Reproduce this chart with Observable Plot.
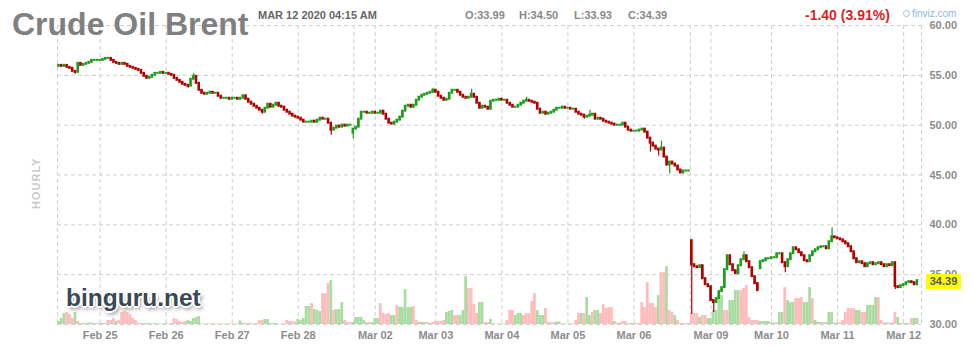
<!DOCTYPE html>
<html><head><meta charset="utf-8">
<script src="https://cdn.jsdelivr.net/npm/d3@7"></script>
<script src="https://cdn.jsdelivr.net/npm/@observablehq/plot@0.6"></script>
<style>
body{margin:0;background:#fff;font-family:"Liberation Sans",Arial,sans-serif}
#wrap{position:relative;width:972px;height:357px;overflow:hidden;background:#fff}
#wrap svg{position:absolute;left:0;top:0}
.t{position:absolute;white-space:nowrap;line-height:1}
</style></head><body>
<div id="wrap"></div>
<script>
// Hourly closes, Feb 24 evening -> Mar 12 04:00 (one value per candle)
const closes = [
56.0,55.9,56.0,55.8,55.7,55.4,55.3,56.2,56.0,56.1,56.2,56.3,56.5,56.5,56.5,56.5,56.6,56.7,56.7,56.5,
56.3,56.2,56.1,56.2,56.1,55.9,55.8,55.7,55.6,55.5,55.2,54.9,54.7,54.8,55.0,55.2,55.2,55.3,55.2,55.2,
55.1,55.0,54.7,54.5,54.3,54.1,54.0,53.9,54.6,54.9,54.2,53.5,53.2,53.1,53.2,53.3,53.2,53.2,52.9,52.7,
52.7,52.7,52.6,52.7,52.7,52.6,52.7,52.95,52.6,52.3,52.1,51.9,51.7,51.5,51.3,51.7,52.1,51.8,52.0,52.2,
51.9,51.8,51.5,51.3,51.1,50.9,50.8,50.7,50.5,50.3,50.3,50.3,50.4,50.3,50.5,50.7,50.6,50.6,50.2,49.5,
49.7,49.9,49.8,50.0,49.9,50.0,50.0,49.6,49.8,50.6,51.3,51.3,51.2,51.2,51.3,51.2,51.2,51.4,51.1,50.6,
50.2,50.1,50.3,50.5,50.8,51.4,51.9,52.0,51.8,52.0,52.5,52.8,53.0,53.1,53.2,53.3,53.5,53.3,52.9,52.7,
52.5,52.6,53.2,53.5,53.5,53.3,53.0,52.8,52.7,52.8,53.1,52.8,52.2,51.7,51.9,51.8,51.6,52.4,52.5,52.5,
52.6,52.5,52.5,52.2,52.0,51.8,51.8,52.0,52.2,52.4,52.5,52.4,52.3,52.2,51.6,51.2,51.3,51.1,51.2,51.3,
51.5,51.7,51.7,51.8,51.7,51.7,51.6,51.6,51.3,51.1,51.0,50.8,50.9,51.0,51.1,50.6,50.7,50.6,50.4,50.3,
50.2,50.1,50.0,50.0,50.0,50.2,49.8,49.5,49.4,49.4,49.4,49.5,49.6,49.3,48.7,48.2,47.9,47.6,47.5,47.7,
46.8,46.0,46.3,46.1,45.9,45.5,45.2,45.4,45.4,45.4,36.0,35.8,35.7,35.9,34.6,34.0,33.8,32.4,32.2,32.6,
33.3,33.7,35.5,36.9,36.0,35.4,35.1,35.9,36.5,36.9,36.3,35.7,34.8,34.1,33.4,36.3,36.4,36.6,36.6,36.7,
36.7,37.1,37.1,36.2,35.8,36.5,37.1,37.7,37.5,37.2,36.9,36.4,36.3,36.9,37.3,37.5,37.7,37.8,37.8,37.6,
38.3,38.8,38.7,38.6,38.5,38.3,38.1,37.8,37.3,36.6,36.2,36.3,36.1,35.8,36.1,36.2,36.0,36.1,36.2,36.0,
35.8,36.0,35.9,36.2,33.8,33.7,33.9,34.0,34.2,34.3,34.2,33.99,34.39
];
// Opens that differ from the previous close (session gaps): [candle, open]
const gapOpens = [[0,55.9],[107,49.2],[230,38.4],[255,35.6]];
// Visible wicks: [candle, high, low]
const wicks = [
[6,null,55.1],[47,null,53.7],[49,55.2,null],[74,null,51.1],[99,null,49.0],[107,null,48.6],
[136,53.7,null],[150,53.6,null],[170,52.8,null],[191,null,50.6],[193,51.5,null],[215,null,47.3],
[218,null,46.9],[219,48.4,null],[222,null,45.1],[230,38.5,31.0],[238,null,31.2],[249,37.3,null],
[264,null,35.2],[281,39.7,null],[304,null,33.5],[312,34.50,33.93]
];
// Volume (thousand lots), sign = candle colour on the volume pane (+ up, - down)
const volumes = [
3,6,11,-12,-10,-6,12,-3,-1,1,1,1.5,1.5,-1,-1,-1,1,-1,-4,-4,
-6,3,-4,-12,-13,-12,-10,-6,-4,-1,-1,-1,1,1,0.5,1,-0.5,0.5,-0.5,1,
-0.5,-1,-6,-5,-3,-2,-3,4,3,6,7,8,-0.5,0.5,0.5,-0.5,0.5,-0.5,-0.5,-0.5,
0.5,-0.5,0.5,-0.5,-0.5,0.5,3.5,1,-1,-1,-1,-0.5,-1,-4,-4,5,5,1,1,1,
-0.5,-0.5,-0.5,-4,-3,-2.5,-2.5,5,4,6,18,18,-21,15,14,13,-31,-31,-41,44,
-14,15,15,22,-4,-2,-2,2,7,7,7,4,-2,-2,2,6,6,-21,-11,-10,
-11,9,9,-19,17,17,35,17,17,-18,-4,2,2,-2,2,-1,-2,-3,-3,-3,
-4,12,13,14,-9,-9,9,14,48,-36,-36,-20,-11,22,22,-2,-2,5,0.5,-0.5,
0.5,-0.5,0.5,-4,-14,-14,9,11,11,-9,-11,-11,-23,-31,14,9,9,-16,-2,-2,
-2,2.5,2.5,-0.5,0.5,-0.5,0.5,-0.5,-4,-11,11,-11,27,9,-12,14,14,-11,-20,-16,
-17,-17,3,-1.5,-1.5,-3,-3,-1,1,-1,1,-1,-22,-17,-42,-21,-21,-17,29,-52,
-52,58,-14,-12,9,-4,-1,1,-1,-1,-11,-11,-11,7,-9,-9,6,6,14,14,
29,29,-14,-14,24,24,34,34,-34,-36,-39,-7,-4,-4,-4,3,3,3,3,1.5,
-1.5,1.5,12,12,-37,24,22,22,-26,-26,-27,22,22,37,-26,4,2,2,-2,2,
12,12,-1.5,1.5,-1.5,-4,-12,-16,-16,-16,14,14,-12,-12,19,19,19,27,-27,-4,
-1.5,1.5,-1.5,1.5,-12,7,1,-1,1,1,-6,6,6
];
const tickIdx = [15,39,63,87,115,137,161,185,209,237,259,283,307];
const tickLabels = ["Feb 25","Feb 26","Feb 27","Feb 28","Mar 02","Mar 03","Mar 04","Mar 05","Mar 06","Mar 09","Mar 10","Mar 11","Mar 12"];
const sessionBreaks = [107.2, 229.5];
const yTicks = [30,35,40,45,50,55,60];

const UP = "#1c9c1c", DOWN = "#b00000", VUP = "#a9dca1", VDOWN = "#ffbcbc";
const openMap = new Map(gapOpens);
const wickMap = new Map(wicks.map(w => [w[0], w]));
const candles = closes.map((c, i) => {
  const o = openMap.has(i) ? openMap.get(i) : closes[i - 1];
  const w = wickMap.get(i);
  const hi = Math.max(o, c, w && w[1] != null ? w[1] : -Infinity);
  const lo = Math.min(o, c, w && w[2] != null ? w[2] : Infinity);
  return {i, o, c, hi, lo, col: c >= o ? UP : DOWN};
});
const vols = volumes.map((v, i) => ({i, v: Math.abs(v), col: v >= 0 ? VUP : VDOWN}));
const labelOf = new Map(tickIdx.map((d, k) => [d, tickLabels[k]]));
const VOL_TO_PRICE = 0.1;
const N = closes.length;

const chart = Plot.plot({
  width: 972, height: 357,
  marginLeft: 57, marginRight: 51, marginTop: 25, marginBottom: 33,
  x: {domain: [-0.5, 313.5], axis: null},
  y: {domain: [30, 60], axis: null},
  color: {type: "identity"},
  style: {fontFamily: "'Liberation Sans', Arial, sans-serif", fontSize: "11px", fontWeight: "bold", background: "transparent"},
  marks: [
    Plot.ruleY(yTicks, {stroke: "#cfcfcf", strokeDasharray: "4,3"}),
    Plot.ruleX([...tickIdx, ...sessionBreaks, -0.5, 313.5], {stroke: "#cfcfcf", strokeDasharray: "4,3"}),
    Plot.rect(vols, {x1: d => d.i - 0.5, x2: d => d.i + 0.5, y1: 30, y2: d => 30 + d.v * VOL_TO_PRICE, fill: "col"}),
    Plot.ruleX(candles, {x: "i", y1: "lo", y2: "hi", stroke: "col", strokeWidth: 1.2}),
    Plot.rect(candles, {x1: d => d.i - 0.5, x2: d => d.i + 0.5, y1: "o", y2: "c", fill: "col", insetTop: -1, insetBottom: -1, insetLeft: 0.1, insetRight: 0.1}),
    Plot.axisY({ticks: yTicks, anchor: "right", tickSize: 0, tickPadding: 8, tickFormat: d => d.toFixed(2), fill: "#8c8c8c", label: null}),
    Plot.axisX({ticks: tickIdx, anchor: "bottom", tickSize: 0, tickPadding: 7, tickFormat: d => labelOf.get(d), fill: "#8c8c8c", label: null})
  ]
});
const wrap = document.getElementById("wrap");
wrap.appendChild(chart);

function addText(txt, css) {
  const d = document.createElement("div");
  d.className = "t";
  d.textContent = txt;
  Object.assign(d.style, css);
  wrap.appendChild(d);
  return d;
}
addText("Crude Oil Brent", {left: "12px", top: "8px", fontSize: "32px", fontWeight: "bold", color: "#808080"});
addText("MAR 12 2020 04:15 AM", {left: "258px", top: "10px", fontSize: "11px", fontWeight: "bold", color: "#666"});
const last = candles[N - 1];
addText("O:" + last.o.toFixed(2), {left: "465px", top: "10px", fontSize: "11px", fontWeight: "bold", color: "#888"});
addText("H:" + last.hi.toFixed(2), {left: "519px", top: "10px", fontSize: "11px", fontWeight: "bold", color: "#888"});
addText("L:" + last.lo.toFixed(2), {left: "574px", top: "10px", fontSize: "11px", fontWeight: "bold", color: "#888"});
addText("C:" + last.c.toFixed(2), {left: "628px", top: "10px", fontSize: "11px", fontWeight: "bold", color: "#888"});
addText("-1.40 (3.91%)", {left: "805px", top: "8px", fontSize: "14px", fontWeight: "bold", color: "#dd1f1f"});
const ic = document.createElement("div");
Object.assign(ic.style, {position: "absolute", left: "903px", top: "10px", width: "5px", height: "5px", border: "1px solid #9cc0e2", borderRadius: "50%"});
wrap.appendChild(ic);
addText("finviz.com", {left: "912px", top: "9px", fontSize: "10px", color: "#8fb6dc"});
addText("HOURLY", {left: "10px", top: "178px", fontSize: "11px", fontWeight: "bold", color: "#cacaca", letterSpacing: "1px", transform: "rotate(-90deg)", transformOrigin: "26px 5px"});
addText("binguru.net", {left: "66px", top: "286px", fontSize: "24.5px", fontWeight: "bold", color: "#3b4856",
  textShadow: "1px 1px 0 #fff,-1px -1px 0 #fff,1px -1px 0 #fff,-1px 1px 0 #fff,2px 0 0 #fff,-2px 0 0 #fff,0 2px 0 #fff,0 -2px 0 #fff,2px 3px 4px rgba(0,0,0,0.55)"});
addText(last.c.toFixed(2), {left: "926px", top: "274px", width: "35px", height: "15px", lineHeight: "15px", textAlign: "center", fontSize: "11px", fontWeight: "bold", color: "#555", background: "#ffff00"});
</script>
</body></html>
